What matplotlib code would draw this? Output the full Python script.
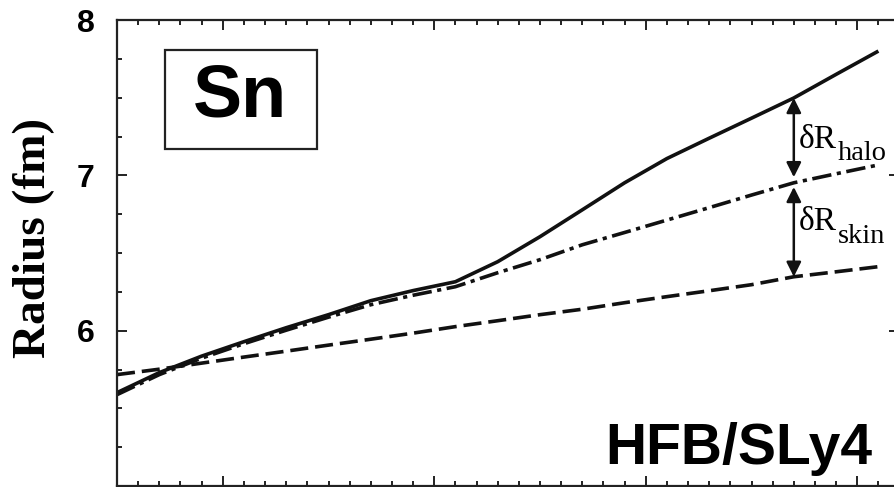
import numpy as np
import matplotlib
matplotlib.use('Agg')
import matplotlib.pyplot as plt
from matplotlib.patches import Rectangle
from matplotlib.ticker import MultipleLocator, FixedLocator

# Sn isotopic chain, HFB with SLy4 force
N = [50, 54, 58, 62, 66, 70, 74, 78, 82, 86, 90, 94, 98, 102, 106, 110, 114, 118, 122]
r_total = [5.601, 5.730, 5.836, 5.929, 6.019, 6.103, 6.193, 6.258, 6.315,
           6.444, 6.605, 6.778, 6.952, 7.108, 7.239, 7.368, 7.498, 7.650, 7.800]
r_core = [5.588, 5.717, 5.823, 5.916, 6.003, 6.087, 6.167, 6.228, 6.283,
          6.373, 6.457, 6.553, 6.632, 6.712, 6.792, 6.873, 6.952, 7.010, 7.067]
r_proton = [5.717, 5.752, 5.791, 5.830, 5.868, 5.907, 5.945, 5.984, 6.026,
            6.064, 6.103, 6.138, 6.180, 6.219, 6.257, 6.296, 6.347, 6.379, 6.412]

N_arrow = 114

plt.rcParams['lines.scale_dashes'] = False
sans = 'Liberation Sans'
serif = 'Liberation Serif'

fig = plt.figure(figsize=(8.95, 4.87), dpi=100)
ax = fig.add_axes([117 / 895, 1 / 487, 781.5 / 895, 466 / 487])

lw = 2.6
ax.plot(N, r_total, color='#111111', lw=lw, solid_capstyle='butt')
ax.plot(N, r_core, color='#111111', lw=lw, dashes=(14, 4, 3, 4), dash_capstyle='butt')
ax.plot(N, r_proton, color='#111111', lw=lw, dashes=(13, 5), dash_capstyle='butt')

ax.set_xlim(50, 123.9)
ax.set_ylim(5, 8)
ax.xaxis.set_major_locator(MultipleLocator(20))
ax.xaxis.set_minor_locator(MultipleLocator(2))
ax.yaxis.set_major_locator(FixedLocator([6, 7, 8]))
ax.yaxis.set_minor_locator(MultipleLocator(0.25))

for s in ax.spines.values():
    s.set_linewidth(1.6)
    s.set_color('#222222')
ax.tick_params(which='both', direction='in', top=True, right=True, color='#222222')
ax.tick_params(which='major', length=7.2, width=1.4)
ax.tick_params(which='minor', length=3.6, width=1.4)
ax.tick_params(axis='x', labelbottom=False)
ax.tick_params(axis='y', pad=16)
for lab in ax.get_yticklabels():
    lab.set_fontfamily(sans)
    lab.set_fontweight('bold')
    lab.set_fontsize(23)

ax.set_ylabel('Radius (fm)', fontfamily=serif, fontweight='bold', fontsize=34)
ax.yaxis.set_label_coords(-0.079, 0.533)

# element box
ax.add_patch(Rectangle((0.0614, 0.7232), 0.1946, 0.2124, transform=ax.transAxes,
                       fill=False, lw=1.6, edgecolor='#222222'))
ax.text(0.157, 0.8326, 'Sn', transform=ax.transAxes, ha='center', va='center',
        fontfamily=sans, fontweight='bold', fontsize=53)

ax.text(0.967, 0.047, 'HFB/SLy4', transform=ax.transAxes, ha='right', va='baseline',
        fontfamily=sans, fontweight='bold', fontsize=41)

# halo and skin differences at one neutron number
i = N.index(N_arrow)
arrow = dict(arrowstyle='<|-|>', color='#111111', lw=1.8, mutation_scale=22)
ax.annotate('', xy=(N_arrow, r_total[i]), xytext=(N_arrow, r_core[i]),
            arrowprops=dict(arrow, shrinkA=4, shrinkB=0))
ax.annotate('', xy=(N_arrow, r_core[i]), xytext=(N_arrow, r_proton[i]),
            arrowprops=dict(arrow, shrinkA=0, shrinkB=3))

ax.text(114.5, 7.177, 'δR', fontfamily=serif, fontsize=24, ha='left', va='baseline')
ax.text(118.13, 7.10, 'halo', fontfamily=serif, fontsize=20.5, ha='left', va='baseline')
ax.text(114.5, 6.65, 'δR', fontfamily=serif, fontsize=24, ha='left', va='baseline')
ax.text(118.13, 6.566, 'skin', fontfamily=serif, fontsize=20.5, ha='left', va='baseline')

plt.savefig('out.png', dpi=100)
